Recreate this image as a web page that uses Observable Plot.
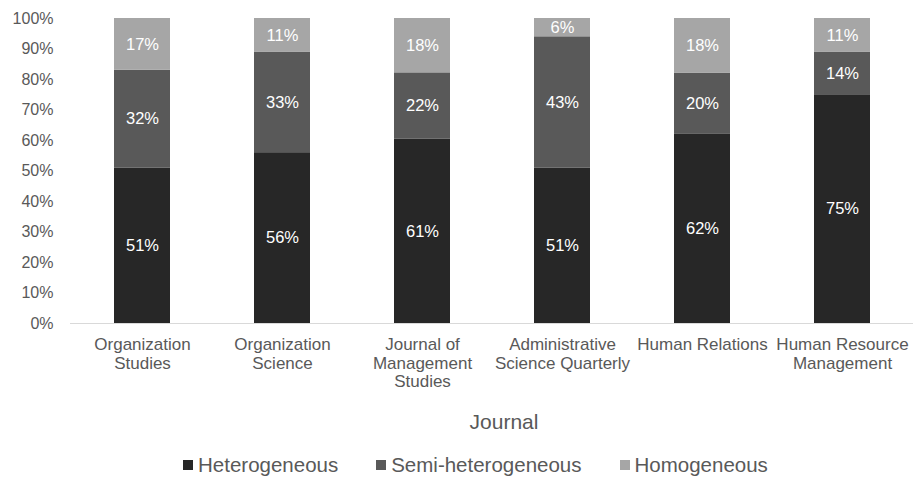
<!DOCTYPE html>
<html>
<head>
<meta charset="utf-8">
<script src="https://cdn.jsdelivr.net/npm/d3@7"></script>
<script src="https://cdn.jsdelivr.net/npm/@observablehq/plot@0.6"></script>
<style>
  html, body { margin: 0; padding: 0; background: #fff; overflow: hidden; }
  body { width: 913px; height: 477px; font-family: "Liberation Sans", Arial, sans-serif; }
  #legend { height: 32px; box-sizing: border-box; padding-top: 8px; padding-left: 183px;
    display: flex; align-items: center; font-size: 20.5px; color: #595959; }
  #legend .item { display: flex; align-items: center; margin-right: 38px; }
  #legend .sw { width: 10px; height: 10px; margin-right: 5px; }
</style>
</head>
<body>
<div id="chart"></div>
<div id="legend"></div>
<script>
const journals = ["Organization Studies", "Organization Science", "Journal of Management Studies",
  "Administrative Science Quarterly", "Human Relations", "Human Resource Management"];
const tickLabels = ["Organization\nStudies", "Organization\nScience", "Journal of\nManagement\nStudies",
  "Administrative\nScience Quarterly", "Human Relations", "Human Resource\nManagement"];
const types = ["Heterogeneous", "Semi-heterogeneous", "Homogeneous"];
const colors = ["#272727", "#595959", "#a6a6a6"];
const heterogeneous = [51, 56, 61, 51, 62, 75];
const semiHeterogeneous = [32, 33, 22, 43, 20, 14];
const homogeneous = [17, 11, 18, 6, 18, 11];
const yTicks = [0, 0.1, 0.2, 0.3, 0.4, 0.5, 0.6, 0.7, 0.8, 0.9, 1];

const series = [heterogeneous, semiHeterogeneous, homogeneous];
const data = [];
journals.forEach((j, i) => {
  types.forEach((t, k) => data.push({journal: j, type: t, value: series[k][i]}));
});
const labelOf = new Map(journals.map((j, i) => [j, tickLabels[i]]));

const stackOpts = {x: "journal", y: "value", z: "type", order: types, offset: "normalize"};

const chart = Plot.plot({
  width: 913,
  height: 445,
  marginTop: 18,
  marginBottom: 122,
  marginLeft: 70,
  marginRight: 0,
  style: {background: "#fff", color: "#595959", fontFamily: "'Liberation Sans', Arial, sans-serif"},
  x: {domain: journals, paddingInner: 0.6, paddingOuter: 0.3, label: null},
  y: {domain: [0, 1], label: null},
  color: {domain: types, range: colors},
  marks: [
    Plot.barY(data, Plot.stackY({...stackOpts, fill: "type"})),
    Plot.text(data, Plot.stackY({...stackOpts, text: d => d.value + "%", fill: "white", fontSize: 16.5})),
    Plot.ruleY([0], {stroke: "#d9d9d9", strokeWidth: 1.2}),
    Plot.axisY({ticks: yTicks, tickFormat: d3.format(".0%"), tickSize: 0, tickPadding: 17, fontSize: 16, label: null}),
    Plot.axisX({tickSize: 0, tickPadding: 14, fontSize: 17, lineHeight: 1.07, label: null,
      tickFormat: d => labelOf.get(d)}),
    Plot.text(["Journal"], {text: d => d, frameAnchor: "bottom", dy: 105, dx: 12, fontSize: 21, fill: "#595959"})
  ]
});
document.getElementById("chart").appendChild(chart);

const legend = document.getElementById("legend");
types.forEach((t, k) => {
  const item = document.createElement("div");
  item.className = "item";
  const sw = document.createElement("span");
  sw.className = "sw";
  sw.style.background = colors[k];
  const lab = document.createElement("span");
  lab.textContent = t;
  item.appendChild(sw);
  item.appendChild(lab);
  legend.appendChild(item);
});
</script>
</body>
</html>
